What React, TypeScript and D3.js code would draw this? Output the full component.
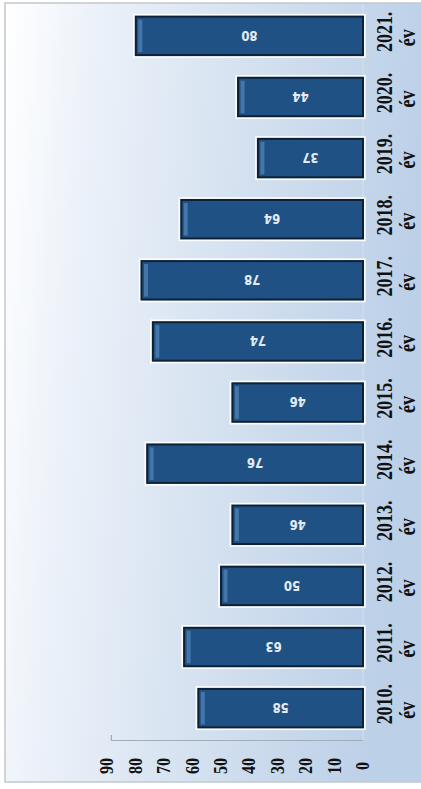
import React from "react";
import * as d3 from "d3";

const years = ["2010.", "2011.", "2012.", "2013.", "2014.", "2015.", "2016.", "2017.", "2018.", "2019.", "2020.", "2021."];
const values = [58, 63, 50, 46, 76, 46, 74, 78, 64, 37, 44, 80];
const ticks = [0, 10, 20, 30, 40, 50, 60, 70, 80, 90];
const unit = "év";

const W = 421;
const H = 789;

// chart is drawn "turned": value axis runs right-to-left, years bottom-to-top
const x = d3.scaleLinear().domain([0, 90]).range([363, 107.4]);
const y = d3
  .scaleBand<string>()
  .domain([...years].reverse())
  .range([5, 739])
  .paddingInner(0.37)
  .paddingOuter(0.19);

const serif = "'Liberation Serif', 'DejaVu Serif', serif";

export default function App() {
  const bw = y.bandwidth();
  return (
    <svg width={W} height={H} style={{ position: "absolute", left: 0, top: 0, background: "#fff" }}>
      <defs>
        <linearGradient id="bg" x1="0" y1="0" x2="1" y2="0.15">
          <stop offset="0" stopColor="#ffffff" />
          <stop offset="0.22" stopColor="#ebf1f9" />
          <stop offset="0.65" stopColor="#d0deee" />
          <stop offset="1" stopColor="#bcd0e8" />
        </linearGradient>
      </defs>
      <rect x={5} y={3} width={W} height={779} fill="url(#bg)" />
      <path d={`M${W},3H5V782H${W}`} fill="none" stroke="#c4c8cc" strokeWidth={1.5} />

      {/* axes */}
      <line x1={x(0)} x2={x(0)} y1={5} y2={740} stroke="#d6e0ea" strokeWidth={1} />
      <line x1={x(90) + 4} x2={x(0)} y1={740.5} y2={740.5} stroke="#a3adb8" strokeWidth={1.2} />
      <line x1={x(90) + 4} x2={x(90) + 4} y1={735} y2={741} stroke="#a3adb8" strokeWidth={1.2} />

      {ticks.map((t) => (
        <text
          key={t}
          transform={`translate(${x(t) + 6},766) rotate(-90) scale(1,1.2)`}
          textAnchor="middle"
          fontFamily={serif}
          fontWeight="bold"
          fontSize={16}
          fill="#111"
        >
          {t}
        </text>
      ))}

      {years.map((yr, i) => {
        const v = values[i];
        const top = y(yr)!;
        const cy = top + bw / 2;
        const left = x(v);
        const len = x(0) - left;
        return (
          <g key={yr}>
            <rect x={left - 1.5} y={top - 1.5} width={len + 3} height={bw + 3} fill="none" stroke="#ffffff" strokeWidth={2.5} opacity={0.9} />
            <rect x={left} y={top} width={len} height={bw} fill="#1f5185" stroke="#0c2036" strokeWidth={2} />
            <rect x={left + 2.5} y={top + 3} width={4} height={bw - 6} fill="#5686b8" opacity={0.7} />
            <text
              transform={`translate(${left + len / 2},${cy}) rotate(180) scale(1,1.15)`}
              dy="0.35em"
              textAnchor="middle"
              fontFamily="'Liberation Sans Narrow', 'DejaVu Sans Condensed', sans-serif"
              fontWeight="bold"
              fontSize={13}
              fill="#e4ebf2"
            >
              {v}
            </text>
            <text
              transform={`translate(392,${cy - 4}) rotate(-90) scale(1,1.25)`}
              textAnchor="middle"
              fontFamily={serif}
              fontWeight="bold"
              fontSize={18}
              fill="#111"
            >
              {yr}
            </text>
            <text
              transform={`translate(415,${cy + 2}) rotate(-90) scale(1,1.25)`}
              textAnchor="middle"
              fontFamily={serif}
              fontWeight="bold"
              fontSize={18}
              fill="#111"
            >
              {unit}
            </text>
          </g>
        );
      })}
    </svg>
  );
}
